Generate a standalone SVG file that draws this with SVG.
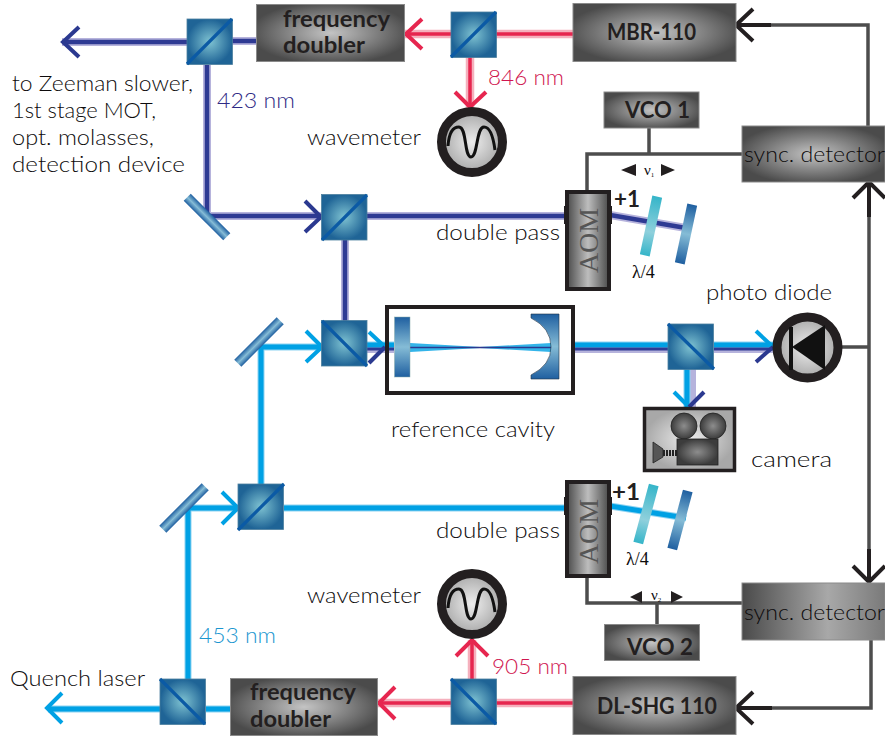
<svg xmlns="http://www.w3.org/2000/svg" width="885" height="737" viewBox="0 0 885 737">
<style>
text{font-family:"Lato","Liberation Sans",sans-serif;font-size:21px;font-weight:300;fill:#0d0b0c}
.b{font-weight:700;font-size:22px;fill:#231f20}
.tm{font-family:"Liberation Serif",serif;font-weight:400;font-size:17px}
.box{fill:url(#g);stroke:#8a8a8a;stroke-width:1}
.aom{fill:url(#ga);stroke:#231f20;stroke-width:4}
.ring{fill:url(#gc);stroke:#231f20;stroke-width:9}
.wave{fill:none;stroke:#111;stroke-width:3}
.bh,.bd,.lh,.ld,.rh,.rd,.ad,.al,.ar,.ak,.w{fill:none}
.bh{stroke:#b6b3dc;stroke-width:8}.bd{stroke:#2e3a93;stroke-width:4.500}
.lh{stroke:#8ed3f2;stroke-width:7}.ld{stroke:#00a1e4;stroke-width:5}
.rh{stroke:#f5b0bd;stroke-width:8.500}.rd{stroke:#e6264f;stroke-width:3.500}
.ad{stroke:#2b3990;stroke-width:4}.al{stroke:#00a1e4;stroke-width:4}.ar{stroke:#e6264f;stroke-width:4}
.ak{stroke:#231f20;stroke-width:4}
.w{stroke:#4d4d4d;stroke-width:3.500}
.diag{stroke:#0b5aa5;stroke-width:3.200;fill:none}
</style>
<defs>
<radialGradient id="g" cx="0.5" cy="0.5" r="0.55"><stop offset="0" stop-color="#c4c4c4"/><stop offset="1" stop-color="#4b4b4b"/></radialGradient>
<linearGradient id="ga" x1="0" x2="1" y1="0" y2="0"><stop offset="0" stop-color="#4a4a4a"/><stop offset=".5" stop-color="#bdbdbd"/><stop offset="1" stop-color="#4a4a4a"/></linearGradient>
<radialGradient id="gc"><stop offset="0" stop-color="#eee"/><stop offset="1" stop-color="#a8a8a8"/></radialGradient>
<radialGradient id="gq"><stop offset="0" stop-color="#7fc3d2"/><stop offset="1" stop-color="#1f6496"/></radialGradient>
<linearGradient id="gm" x1="0" x2="0" y1="0" y2="1"><stop offset="0" stop-color="#1f5fa0"/><stop offset=".5" stop-color="#85bcd6"/><stop offset="1" stop-color="#1f5fa0"/></linearGradient>
<linearGradient id="gw" x1="0" x2="0" y1="0" y2="1"><stop offset="0" stop-color="#35b5c9"/><stop offset=".6" stop-color="#8fd0dc"/><stop offset="1" stop-color="#35b5c9"/></linearGradient>
<linearGradient id="gs" x1="0" x2="1" y1="0" y2="0"><stop offset="0" stop-color="#4a4a4a"/><stop offset=".6" stop-color="#a8a8a8"/><stop offset="1" stop-color="#7a7a7a"/></linearGradient>
<radialGradient id="gk"><stop offset="0" stop-color="#8d8d8d"/><stop offset="1" stop-color="#3c3c3c"/></radialGradient>
<g id="q"><rect x="0" y="0" width="45.500" height="45.500" fill="url(#gq)" stroke="#4d7f9e" stroke-width=".8"/></g>
</defs>

<g id="connectors">
<path class="bh" d="M62,42H187M232,41H256M207,65V216H322M367,216H566M345,240V321"/>
<path class="bd" d="M62,42H187M232,41H256M207,65V216H322M367,216H566M345,240V321"/>
<path class="bh" d="M610,215L686,228"/><path class="bd" d="M610,215L686,228"/>
<path class="lh" d="M261,345V484M261,347H322M183,508H238M188,508V680M284,508H566M48,709H161M206,709H230"/>
<path class="ld" d="M261,345V484M261,347H322M183,508H238M188,508V680M284,508H566M48,709H161M206,709H230"/>
<path class="lh" d="M610,506L686,518"/><path class="ld" d="M610,506L686,518"/>
<path class="bh" d="M367,349H394M574,349H668M714,349H773M692,369V407"/>
<path class="lh" d="M367,345H394M574,345H668M714,345H773M687,369V407"/>
<path class="ld" d="M367,345H394M574,345H668M714,345H773M687,369V407"/>
<path class="bd" d="M367,349H394M574,349H668M714,349H773" style="stroke-width:3"/>
<path d="M410,343L480,347L551,343V352L480,348L410,352Z" fill="#00a1e4" opacity=".8"/>
<path d="M410,347.500H551" fill="none" stroke="#2b3990" stroke-width="1.600"/>
<path class="rh" d="M405,34H451M496,34H573M470,57V108"/><path class="rd" d="M405,34H451M496,34H573M470,57V108"/>
<path class="rh" d="M378,703H451M496,703H573M472,679V640"/><path class="rd" d="M378,703H451M496,703H573M472,679V640"/>
<polyline class="ad" points="79,27 63,42 79,57"/>
<polyline class="ar" points="422,19 406,34 422,49"/>
<polyline class="ar" points="455,92 470,107 486,92"/>
<polyline class="ad" points="305,201 321,217 305,232"/>
<polyline class="al" points="306,331 322,347 306,362"/>
<polyline class="al" points="369,332 385,347"/><polyline class="ad" points="369,363 385,347"/>
<polyline class="al" points="756,331 773,347"/><polyline class="ad" points="756,362 773,347"/>
<polyline class="al" points="674,392 689,407"/><polyline class="ad" points="704,392 689,407"/>
<polyline class="al" points="222,492 238,508 222,524"/>
<polyline class="al" points="62,693 47,708 62,723"/>
<polyline class="ar" points="395,687 379,703 395,719"/>
<polyline class="ar" points="456,656 472,640 488,656"/>
<path class="w" d="M868,126V25H736M649,128V154M742,154H587V191M842,347H869M869,182V582M587,576V603H742M657,603V624M871,640V708H736"/>
<path class="ak" d="M736,25H771M869,182V217M869,582V549M736,708H772"/>
<polyline class="ak" points="753,9 736,25 753,41"/>
<polyline class="ak" points="853,198 869,182 885,198"/>
<polyline class="ak" points="853,566 869,582 885,566"/>
<polyline class="ak" points="753,692 736,708 753,724"/>
<path d="M621,170L636,164V176ZM675,170L661,164V176ZM630,597L642,591V603ZM683,597L671,591V603Z" fill="#231f20"/>
</g>

<g id="cube1"><use href="#q" x="187" y="19"/><path class="diag" d="M187,64L232,19"/></g>
<g id="cube2"><use href="#q" x="451" y="12"/><path class="diag" d="M451,57L496,12"/></g>
<g id="cube3"><use href="#q" x="321.500" y="194.500"/><path class="diag" d="M322,240L367,195"/></g>
<g id="cube4"><use href="#q" x="321.500" y="320.500"/><path class="diag" d="M322,321L367,366"/></g>
<g id="cube5"><use href="#q" x="668" y="324"/><path class="diag" d="M668,324L714,369"/></g>
<g id="cube6"><use href="#q" x="238" y="484"/><path class="diag" d="M238,530L284,484"/></g>
<g id="cube7"><use href="#q" x="160" y="679"/><path class="diag" d="M160,679L205,724"/></g>
<g id="cube8"><use href="#q" x="451" y="679"/><path class="diag" d="M451,679L496,724"/></g>

<g id="mirror1"><rect x="-28" y="-5" width="56" height="10" transform="translate(207,217) rotate(45)" fill="url(#gm)"/></g>
<g id="mirror2"><rect x="-30" y="-5" width="60" height="10" transform="translate(259,342) rotate(-45)" fill="url(#gm)"/></g>
<g id="mirror3"><rect x="-30" y="-5" width="60" height="10" transform="translate(184,508) rotate(-45)" fill="url(#gm)"/></g>

<g id="doubler1"><rect class="box" x="256.500" y="4.500" width="148" height="57"/><text class="b" x="283" y="27" textLength="107" lengthAdjust="spacingAndGlyphs">frequency</text><text class="b" x="283" y="53" textLength="82" lengthAdjust="spacingAndGlyphs">doubler</text></g>
<g id="doubler2"><rect class="box" x="230.500" y="678.500" width="147" height="57"/><text class="b" x="250" y="700" textLength="106" lengthAdjust="spacingAndGlyphs">frequency</text><text class="b" x="250" y="727" textLength="81" lengthAdjust="spacingAndGlyphs">doubler</text></g>
<g id="mbr"><rect class="box" x="573" y="3.500" width="163" height="58"/><text class="b" x="607" y="40" textLength="89" lengthAdjust="spacingAndGlyphs">MBR-110</text></g>
<g id="dlshg"><rect class="box" x="573" y="676.500" width="163" height="58"/><text class="b" x="597" y="714" textLength="120" lengthAdjust="spacingAndGlyphs">DL-SHG 110</text></g>
<g id="vco1"><rect class="box" x="604" y="92" width="95" height="36"/><text class="b" x="625" y="118" textLength="65" lengthAdjust="spacingAndGlyphs">VCO 1</text></g>
<g id="vco2"><rect class="box" x="604.500" y="624.500" width="95" height="36"/><text class="b" x="627" y="655" textLength="66" lengthAdjust="spacingAndGlyphs">VCO 2</text></g>
<g id="sync1"><rect x="742" y="126" width="143" height="56" fill="url(#g)" stroke="#8a8a8a"/><text x="744" y="162" textLength="141" lengthAdjust="spacingAndGlyphs">sync. detector</text></g>
<g id="sync2"><rect x="742" y="583" width="143" height="57" fill="url(#gs)" stroke="#8a8a8a"/><text x="744" y="620" textLength="141" lengthAdjust="spacingAndGlyphs">sync. detector</text></g>

<g id="aom1"><rect x="564" y="206" width="48" height="18" fill="#231f20"/><rect class="aom" x="567" y="192" width="42" height="97"/><text class="tm" style="font-size:28px;fill:#555" transform="translate(598,273) rotate(-90)" textLength="65" lengthAdjust="spacingAndGlyphs">AOM</text></g>
<g id="aom2"><rect x="564" y="497" width="48" height="18" fill="#231f20"/><rect class="aom" x="567" y="482" width="42" height="94"/><text class="tm" style="font-size:28px;fill:#555" transform="translate(598,564) rotate(-90)" textLength="65" lengthAdjust="spacingAndGlyphs">AOM</text></g>

<g id="waveplate1"><rect x="-5" y="-30" width="10" height="60" transform="translate(651,226) rotate(12)" fill="url(#gw)"/></g>
<g id="endmirror1"><rect x="-5" y="-30" width="10" height="60" transform="translate(686,234) rotate(12)" fill="url(#gm)"/></g>
<g id="waveplate2"><rect x="-5" y="-30" width="10" height="60" transform="translate(646,514) rotate(15)" fill="url(#gw)"/></g>
<g id="endmirror2"><rect x="-5" y="-30" width="10" height="60" transform="translate(680,520) rotate(15)" fill="url(#gm)"/></g>

<g id="wavemeter1"><circle class="ring" cx="472" cy="142" r="30.500"/><path class="wave" d="M448,146C449,131 454,127 459,127C467,127 464,157 471,157C478,157 476,127 484,127C489,127 493,135 495,150"/></g>
<g id="wavemeter2"><circle class="ring" cx="472" cy="604" r="30.500"/><path class="wave" d="M448,608C449,593 454,589 459,589C467,589 464,619 471,619C478,619 476,589 484,589C489,589 493,597 495,612"/></g>

<g id="cavity"><rect x="387" y="307" width="186" height="86" fill="none" stroke="#231f20" stroke-width="4"/>
<rect x="394.500" y="317" width="15.500" height="60" fill="url(#gm)" stroke="#8aa" stroke-width=".5"/>
<path d="M531,314H559V379H531V375Q551,365 551,347Q551,328 531,318Z" fill="url(#gm)" stroke="#234" stroke-width=".6"/></g>

<g id="photodiode"><circle class="ring" cx="807.500" cy="347.500" r="30.500"/><path d="M792,347L825,325V370Z" fill="#111"/><rect x="789" y="327" width="4" height="43" fill="#111"/></g>

<g id="camera"><rect x="644.500" y="408.500" width="90" height="62" fill="url(#gc)" stroke="#231f20" stroke-width="3.500"/>
<circle cx="684" cy="426" r="13" fill="url(#gk)" stroke="#222" stroke-width=".8"/><circle cx="713" cy="426" r="13" fill="url(#gk)" stroke="#222" stroke-width=".8"/>
<rect x="677" y="439" width="41" height="26" fill="url(#gk)" stroke="#222" stroke-width=".8"/>
<path d="M653,442L663,449V457L653,463Z" fill="#555" stroke="#222" stroke-width=".8"/><path d="M663,453H677" fill="none" stroke="#222" stroke-width="6" stroke-dasharray="2 1"/></g>

<g id="labels">
<text x="12" y="91" textLength="181" lengthAdjust="spacingAndGlyphs">to Zeeman slower,</text>
<text x="12" y="118" textLength="144" lengthAdjust="spacingAndGlyphs">1st stage MOT,</text>
<text x="12" y="145" textLength="142" lengthAdjust="spacingAndGlyphs">opt. molasses,</text>
<text x="12" y="172" textLength="173" lengthAdjust="spacingAndGlyphs">detection device</text>
<text x="217" y="108" textLength="78" lengthAdjust="spacingAndGlyphs" style="fill:#2f2a85">423 nm</text>
<text x="488" y="85" textLength="76" lengthAdjust="spacingAndGlyphs" style="fill:#d01550">846 nm</text>
<text x="307" y="145" textLength="114" lengthAdjust="spacingAndGlyphs">wavemeter</text>
<text x="307" y="603" textLength="114" lengthAdjust="spacingAndGlyphs">wavemeter</text>
<text x="436" y="240" textLength="124" lengthAdjust="spacingAndGlyphs">double pass</text>
<text x="436" y="538" textLength="124" lengthAdjust="spacingAndGlyphs">double pass</text>
<text x="706" y="300" textLength="126" lengthAdjust="spacingAndGlyphs">photo diode</text>
<text x="391" y="437" textLength="164" lengthAdjust="spacingAndGlyphs">reference cavity</text>
<text x="751" y="467" textLength="81" lengthAdjust="spacingAndGlyphs">camera</text>
<text x="199" y="643" textLength="77" lengthAdjust="spacingAndGlyphs" style="fill:#1a96d0">453 nm</text>
<text x="492" y="674" textLength="76" lengthAdjust="spacingAndGlyphs" style="fill:#d01550">905 nm</text>
<text x="10" y="686" textLength="135" lengthAdjust="spacingAndGlyphs">Quench laser</text>
<text class="b" x="614" y="207" textLength="26" lengthAdjust="spacingAndGlyphs">+1</text>
<text class="b" x="612" y="500" textLength="28" lengthAdjust="spacingAndGlyphs">+1</text>
<text x="632" y="278" class="tm" style="font-size:18px">λ/4</text>
<text x="626" y="565" class="tm" style="font-size:18px">λ/4</text>
<text x="644" y="175" class="tm" style="font-size:15px">ν<tspan dy="2" style="font-size:7px">1</tspan></text>
<text x="651" y="600" class="tm" style="font-size:15px">ν<tspan dy="2" style="font-size:7px">2</tspan></text>
</g>
</svg>
